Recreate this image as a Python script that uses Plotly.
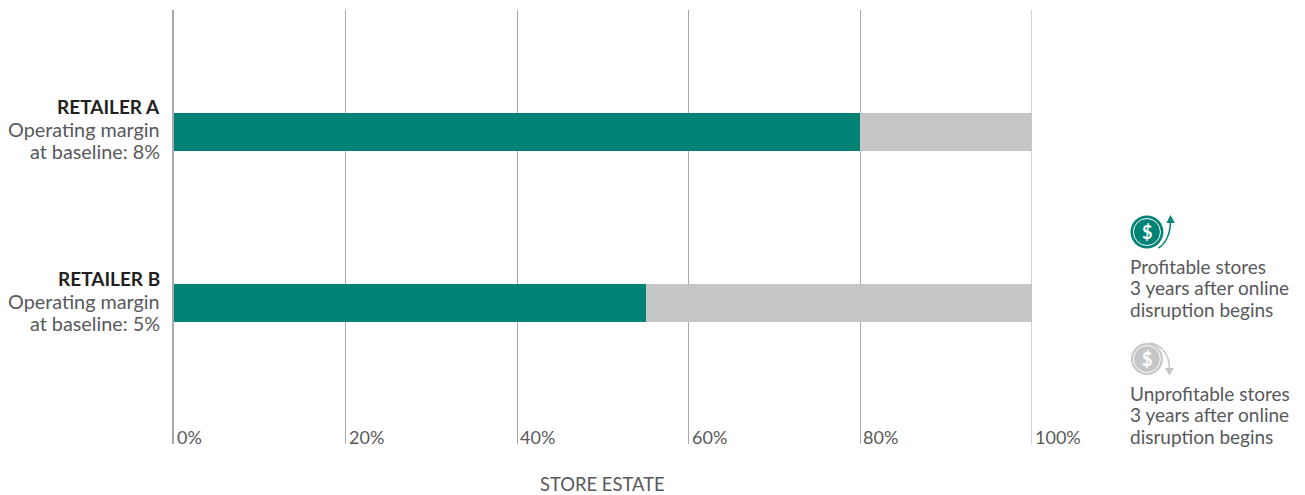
import plotly.graph_objects as go

retailer_keys = ["A", "B"]
retailer_names = ["RETAILER A", "RETAILER B"]
retailer_line2 = ["Operating margin", "Operating margin"]
retailer_line3 = ["at baseline: 8%", "at baseline: 5%"]
profitable = [80, 55]
unprofitable = [20, 45]
tick_values = [0, 20, 40, 60, 80, 100]
tick_labels = ["0%", "20%", "40%", "60%", "80%", "100%"]
legend_top = ["Profitable stores", "3 years after online", "disruption begins"]
legend_bottom = ["Unprofitable stores", "3 years after online", "disruption begins"]
axis_title = "STORE ESTATE"

W, H = 1305, 495
L, R, T, B = 174.0, 1032.5, 10.0, 444.0
TEXT = "#58595b"
DARK = "#231f20"
GREEN = "#008374"
GREY = "#c5c6c8"
RULE = "#a7a9ac"
FONT = "Lato"
FS = 18


def px(x):
    return (x - L) / (R - L)


def py(y):
    return (B - y) / (B - T)


def cubic(p0, c1, c2, p1):
    return (f"M{px(p0[0])},{py(p0[1])} C{px(c1[0])},{py(c1[1])} "
            f"{px(c2[0])},{py(c2[1])} {px(p1[0])},{py(p1[1])}")


def tri(a, b, c):
    return (f"M{px(a[0])},{py(a[1])} L{px(b[0])},{py(b[1])} "
            f"L{px(c[0])},{py(c[1])} Z")


def circle(cx, cy, r, fill, line=None, width=0):
    return dict(type="circle", xref="paper", yref="paper",
                x0=px(cx - r), x1=px(cx + r), y0=py(cy + r), y1=py(cy - r),
                fillcolor=fill, line=dict(color=line or fill, width=width))


def label(xpx, ypx, text, anchor, size, color=TEXT):
    return dict(x=px(xpx), xref="paper", y=py(ypx), yref="paper", text=text,
                showarrow=False, xanchor=anchor, yanchor="middle",
                xshift=0, borderpad=0,
                font=dict(family=FONT, size=size, color=color))


fig = go.Figure()
fig.add_bar(y=retailer_keys, x=profitable, orientation="h", width=0.222,
            marker=dict(color=GREEN, line_width=0), name="Profitable")
fig.add_bar(y=retailer_keys, x=unprofitable, orientation="h", width=0.222,
            marker=dict(color=GREY, line_width=0), name="Unprofitable")

annotations = []
for v, t in zip(tick_values, tick_labels):
    annotations.append(dict(x=v, xref="x", y=py(437), yref="paper", text=t,
                            showarrow=False, xanchor="left", yanchor="middle",
                            xshift=1, font=dict(family=FONT, size=FS, color=TEXT)))
for i in range(len(retailer_keys)):
    top = 106 + i * 172.5
    annotations.append(label(160.5, top, f"<b>{retailer_names[i]}</b>", "right", 19, DARK))
    annotations.append(label(160.5, top + 22.5, retailer_line2[i], "right", 19.8))
    annotations.append(label(160.5, top + 44.5, retailer_line3[i], "right", 19.8))
for cy, lines in ((266.5, legend_top), (393.5, legend_bottom)):
    for i, t in enumerate(lines):
        annotations.append(label(1130, cy + i * 21.3, t, "left", 19))
for cx, cy in ((1147.5, 232), (1147.5, 359)):
    annotations.append(label(cx, cy, "<b>$</b>", "center", 18, "white"))
annotations.append(label(602.5, 484, axis_title, "center", 18.4))

shapes = [
    dict(type="line", xref="x", yref="paper", x0=100, x1=100, y0=0, y1=1, layer="below",
         line=dict(color=RULE, width=1)),
    circle(1147.5, 232, 16.5, GREEN),
    circle(1147.5, 232, 13.5, GREEN, "white", 1),
    dict(type="path", xref="paper", yref="paper", line=dict(color=GREEN, width=1.5),
         path=cubic((1159, 248), (1166, 244), (1171, 234), (1171, 222))),
    dict(type="path", xref="paper", yref="paper", fillcolor=GREEN, line=dict(color=GREEN, width=0),
         path=tri((1171, 215), (1175.5, 223), (1167, 223))),
    circle(1147.5, 359, 16, GREY),
    circle(1147.5, 359, 13.5, GREY, "white", 1),
    dict(type="path", xref="paper", yref="paper", line=dict(color=GREY, width=1.5),
         path=cubic((1150, 343), (1161, 344), (1170, 354), (1170, 368))),
    dict(type="path", xref="paper", yref="paper", fillcolor=GREY, line=dict(color=GREY, width=0),
         path=tri((1170, 375.5), (1174.5, 368), (1165.5, 368))),
]

fig.update_layout(
    width=W, height=H, barmode="stack", showlegend=False,
    paper_bgcolor="white", plot_bgcolor="white",
    margin=dict(l=L, r=W - R, t=T, b=H - B, pad=0),
    annotations=annotations, shapes=shapes,
    font=dict(family=FONT, size=FS, color=TEXT),
)
fig.update_xaxes(range=[0, 100], tickvals=tick_values, showticklabels=False, ticks="",
                 showgrid=True, gridcolor=RULE, gridwidth=1, zeroline=False,
                 showline=False)
fig.update_yaxes(categoryorder="array", categoryarray=retailer_keys,
                 range=[1.825, -0.713], tickmode="array", tickvals=retailer_keys,
                 showticklabels=False, ticks="",
                 showgrid=False, zeroline=False, showline=True, linecolor=RULE, linewidth=2)

fig.write_html("out.html", config={"displayModeBar": False},
               post_script="document.body.style.margin='0';document.body.style.overflow='hidden';")
